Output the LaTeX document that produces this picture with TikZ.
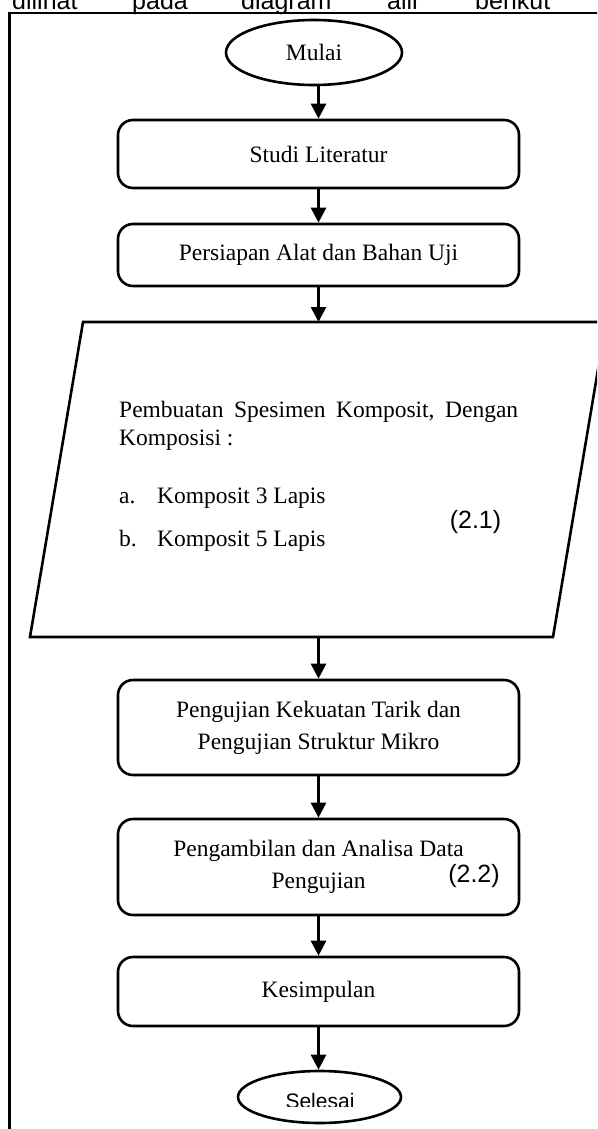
\documentclass[tikz,border=0pt]{standalone}
\usepackage{fontspec}
\setmainfont{Liberation Serif}
\newfontfamily\arialf{Liberation Sans}
\usetikzlibrary{arrows.meta,shapes.geometric}
\begin{document}
\begin{tikzpicture}[x=1pt,y=-1pt,
  lw/.style={line width=2.6pt},
  box/.style={draw, lw, rounded corners=15pt, minimum width=401pt, inner sep=0pt, align=center, font=\fontsize{23.5}{32}\selectfont},
  term/.style={draw, ellipse, lw, inner sep=0pt, font=\fontsize{23.5}{28}\selectfont},
  arr/.style={lw, -{Triangle[width=15pt,length=15pt]}},
  serif/.style={inner sep=0pt, anchor=base west, font=\fontsize{23.5}{28}\selectfont},
  sans/.style={inner sep=0pt, font=\arialf\fontsize{25}{30}\selectfont},
  topword/.style={sans, anchor=base west}
]
\useasboundingbox (0,0) rectangle (597,1129);
\clip (0,0) rectangle (597,1129);

% heading line cut at top
\node[topword] (w1) at (12,9.5) {dilihat};
\node[topword] (w2) at (132,9.5) {pada};
\node[topword] (w3) at (241,9.5) {diagram};
\node[topword] (w4) at (387,9.5) {alir};
\node[topword] (w5) at (475,9.5) {berikut};

% frame
\draw[line width=2.4pt] (9.5,1200) -- (9.5,13) -- (650,13);

% nodes
\node[term, minimum width=176pt, minimum height=65pt] (mulai) at (314,52.5) {Mulai};
\node[box, minimum height=68pt] (studi) at (318.5,154) {Studi Literatur};
\node[box, minimum height=62pt] (persiapan) at (318.5,255) {Persiapan Alat dan Bahan Uji};

% parallelogram
\draw[lw, line join=miter] (83,322) -- (606,322) -- (553,637) -- (30,637) -- cycle;
\coordinate (ptop) at (318.5,322);
\coordinate (pbot) at (318.5,637);
\node[serif] (p1) at (119,417) {\makebox[399pt][s]{Pembuatan\hfill Spesimen\hfill Komposit,\hfill Dengan}};
\node[serif] (p2) at (119,445) {Komposisi :};
\node[serif] (pa) at (119,503) {a.};
\node[serif] (pa2) at (157,503) {Komposit 3 Lapis};
\node[serif] (pb) at (119,546) {b.};
\node[serif] (pb2) at (157,546) {Komposit 5 Lapis};
\node[sans] (eq1) at (475.5,522) {(2.1)};

\node[box, minimum height=95pt] (uji) at (318.5,727.5) {Pengujian Kekuatan Tarik dan\\Pengujian Struktur Mikro};
\node[box, minimum height=96pt] (ambil) at (318.5,867) {Pengambilan dan Analisa Data\\Pengujian};
\node[sans] (eq2) at (474,876) {(2.2)};
\node[box, minimum height=69pt] (simpul) at (318.5,991.5) {Kesimpulan};

\node[draw, ellipse, lw, minimum width=163pt, minimum height=52pt, inner sep=0pt] (selesai) at (319.5,1097) {};
\begin{scope}
  \clip (200,1000) rectangle (450,1106);
  \node[inner sep=0pt, anchor=base, font=\arialf\fontsize{21}{25}\selectfont] (seltext) at (320,1108) {Selesai};
\end{scope}

% connectors
\draw[arr] (studi.north |- mulai.south) -- (studi.north);
\draw[arr] (studi.south) -- (persiapan.north);
\draw[arr] (persiapan.south) -- (ptop);
\draw[arr] (pbot) -- (uji.north);
\draw[arr] (uji.south) -- (ambil.north);
\draw[arr] (ambil.south) -- (simpul.north);
\draw[arr] (simpul.south) -- (simpul.south |- selesai.north);
\end{tikzpicture}
\end{document}
